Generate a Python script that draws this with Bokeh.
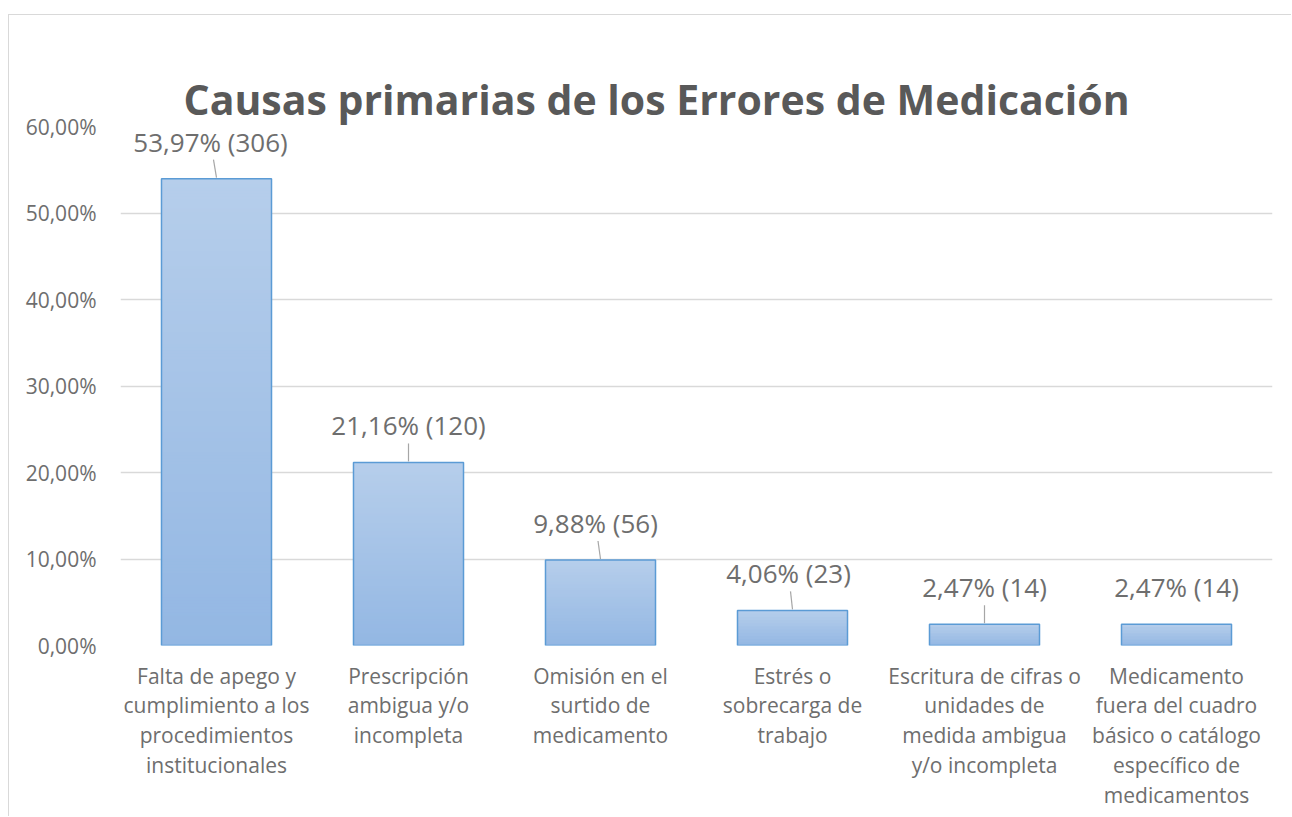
import numpy as np
from bokeh.plotting import figure
from bokeh.models import Range1d, FixedTicker, ColumnDataSource, Title
from bokeh.core.properties import value
from bokeh.embed import file_html
from bokeh.resources import INLINE

# ---------------- data ----------------
categories = [
    "Falta de apego y\ncumplimiento a los\nprocedimientos\ninstitucionales",
    "Prescripción\nambigua y/o\nincompleta",
    "Omisión en el\nsurtido de\nmedicamento",
    "Estrés o\nsobrecarga de\ntrabajo",
    "Escritura de cifras o\nunidades de\nmedida ambigua\ny/o incompleta",
    "Medicamento\nfuera del cuadro\nbásico o catálogo\nespecífico de\nmedicamentos",
]
percent = [53.97, 21.16, 9.88, 4.06, 2.47, 2.47]
counts = [306, 120, 56, 23, 14, 14]
y_ticks = [0, 10, 20, 30, 40, 50, 60]
y_tick_labels = ["0,00%", "10,00%", "20,00%", "30,00%", "40,00%", "50,00%", "60,00%"]
title = "Causas primarias de los Errores de Medicación"

# ---------------- style ----------------
FONT = "Open Sans"
TITLE_GRAY = "#595959"
GRAY = "#6e6e6e"
OX, OY = 8, 14               # chart-area offset (border position) in page px
W, H = 1292 - OX - 1, 817 - OY - 1
FRAME_L, FRAME_T = 120 - OX - 1, 126 - OY - 1
FRAME_R, FRAME_B = 20, 172
frame_w = W - FRAME_L - FRAME_R
frame_h = H - FRAME_T - FRAME_B
n = len(categories)
ymax = 60
px_y = ymax / frame_h        # data units per pixel (y)
px_x = n / frame_w           # data units per pixel (x)
bar_w = 0.573
label_gap = 37               # px from bar top to label centre
label_dx = [-6, 0, -5, -4, 0, 0]
show_leader = [True, True, True, True, True, False]
top_rgb = np.array([182, 206, 235])
bot_rgb = np.array([147, 183, 227])

centers = [i + 0.5 for i in range(n)]

p = figure(width=W, height=H, x_range=Range1d(0, n), y_range=Range1d(0, ymax),
           output_backend="svg", toolbar_location=None,
           min_border_left=FRAME_L, min_border_right=FRAME_R,
           min_border_top=FRAME_T, min_border_bottom=FRAME_B)
p.styles = {"margin-left": "%dpx" % OX, "margin-top": "%dpx" % OY,
            "border-left": "1px solid #d9d9d9", "border-top": "1px solid #d9d9d9"}
p.outline_line_color = None
p.background_fill_color = "white"
p.border_fill_color = "white"

# main title
p.title.text = title
p.title.text_font = FONT
p.title.text_font_size = "41px"
p.title.text_font_style = "bold"
p.title.text_color = TITLE_GRAY
p.title.align = "left"
p.title.offset = 63
p.title.standoff = 0

# invisible spacer title between the frame and the main title
spacer = Title(text=" ", text_font_size="1px", text_alpha=0, standoff=31)
p.add_layout(spacer, "above")

# grid
p.xgrid.grid_line_color = None
p.ygrid.ticker = FixedTicker(ticks=y_ticks)
p.ygrid.grid_line_color = "#d9d9d9"
p.ygrid.grid_line_width = 1.3

# axes
p.yaxis.ticker = FixedTicker(ticks=y_ticks)
p.yaxis.major_label_overrides = {t: l for t, l in zip(y_ticks, y_tick_labels)}
p.yaxis.axis_line_color = None
p.yaxis.major_tick_line_color = None
p.yaxis.minor_tick_line_color = None
p.yaxis.major_label_text_font = FONT
p.yaxis.major_label_text_font_size = "21px"
p.yaxis.major_label_text_color = GRAY
p.yaxis.major_label_standoff = 18

p.xaxis.ticker = FixedTicker(ticks=centers)
p.xaxis.major_label_overrides = {c: l for c, l in zip(centers, categories)}
p.xaxis.axis_line_color = None
p.xaxis.major_tick_line_color = None
p.xaxis.minor_tick_line_color = None
p.xaxis.major_label_text_font = FONT
p.xaxis.major_label_text_font_size = "21px"
p.xaxis.major_label_text_color = GRAY
p.xaxis.major_label_text_line_height = 1.07
p.xaxis.major_label_standoff = 10

# gradient bars (slices derived from data)
xs, bots, tops, cols = [], [], [], []
for c, v in zip(centers, percent):
    N = max(2, int(v / px_y / 3))
    edges = np.linspace(0, v, N + 1)
    for j in range(N):
        f = (j + 0.5) / N  # 0 bottom -> 1 top
        rgb = bot_rgb + (top_rgb - bot_rgb) * f
        xs.append(c)
        bots.append(edges[j])
        tops.append(min(v, edges[j + 1] + px_y))
        cols.append("#%02x%02x%02x" % tuple(int(round(x)) for x in rgb))
p.vbar(x=xs, bottom=bots, top=tops, width=bar_w, fill_color=cols, line_color=None)
p.vbar(x=centers, top=percent, width=bar_w, fill_color=None,
       line_color="#5b9bd5", line_width=1.5)

# leader lines
lx0, ly0, lx1, ly1 = [], [], [], []
for c, v, dx, s in zip(centers, percent, label_dx, show_leader):
    if not s:
        continue
    lx0.append(c + dx * 0.5 * px_x)
    ly0.append(v + 19 * px_y)
    lx1.append(c)
    ly1.append(v + 1 * px_y)
p.segment(x0=lx0, y0=ly0, x1=lx1, y1=ly1, line_color="#a6a6a6", line_width=1.2)

# data labels
labels = ["%s%% (%d)" % (("%.2f" % v).replace(".", ","), k) for v, k in zip(percent, counts)]
src = ColumnDataSource(dict(x=[c + dx * px_x for c, dx in zip(centers, label_dx)],
                            y=[v + label_gap * px_y for v in percent],
                            t=labels))
p.text(x="x", y="y", text="t", source=src, text_font=value(FONT),
       text_font_size="26px", text_color=GRAY, text_align="center",
       text_baseline="middle")

open("out.html", "w").write(file_html(p, INLINE))
